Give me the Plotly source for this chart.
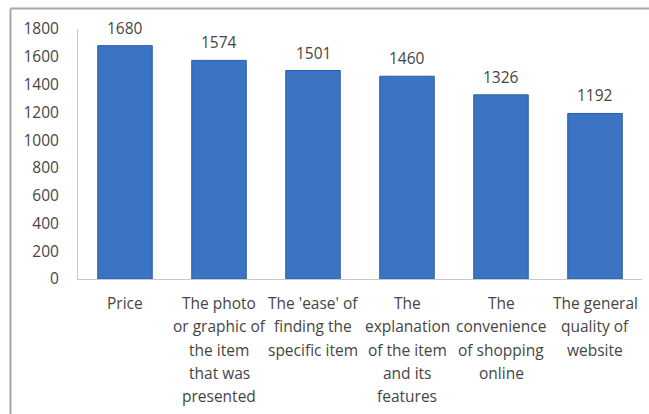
import plotly.graph_objects as go

categories = [
    ["Price"],
    ["The photo", "or graphic of", "the item", "that was", "presented"],
    ["The 'ease' of", "finding the", "specific item"],
    ["The", "explanation", "of the item", "and its", "features"],
    ["The", "convenience", "of shopping", "online"],
    ["The general", "quality of", "website"],
]
values = [1680, 1574, 1501, 1460, 1326, 1192]
y_ticks = [0, 200, 400, 600, 800, 1000, 1200, 1400, 1600, 1800]

cat_keys = [" ".join(c) for c in categories]

W, H = 649, 414
L, R, T, B = 78, 7, 29, 135
FONT = "Open Sans"
TXT = "#454545"
FS = 15.5

fig = go.Figure()
fig.add_trace(go.Bar(
    x=cat_keys, y=values,
    marker=dict(color="#3A74C2", line=dict(color="#2C5DA6", width=1)),
    width=0.58,
    hoverinfo="skip",
))

annotations = []
for key, lines in zip(cat_keys, categories):
    for i, line in enumerate(lines):
        annotations.append(dict(
            x=key, y=0, xref="x", yref="y", text=line, showarrow=False,
            yanchor="middle", yshift=-(24 + 23.3 * i),
            font=dict(family=FONT, size=FS, color=TXT),
        ))
for key, v in zip(cat_keys, values):
    annotations.append(dict(
        x=key, y=v, xref="x", yref="y", text=str(v), showarrow=False,
        yanchor="middle", yshift=18,
        font=dict(family=FONT, size=FS, color=TXT),
    ))

pw = W - L - R
ph = H - T - B
shapes = [
    dict(type="line", xref="paper", yref="paper",
         x0=(10.5 - L) / pw, x1=(W + 5 - L) / pw,
         y0=(H - B - 8.5) / ph, y1=(H - B - 8.5) / ph,
         line=dict(color="#a6a6a6", width=2)),
    dict(type="line", xref="paper", yref="paper",
         x0=(10.5 - L) / pw, x1=(10.5 - L) / pw,
         y0=(H - B - 8.5) / ph, y1=-(B + 5) / ph,
         line=dict(color="#a6a6a6", width=2)),
]

fig.update_layout(
    width=W, height=H,
    margin=dict(l=L, r=R, t=T, b=B),
    paper_bgcolor="white", plot_bgcolor="white",
    showlegend=False,
    annotations=annotations,
    shapes=shapes,
    bargap=0.42,
    xaxis=dict(
        showticklabels=False, showgrid=False, zeroline=False,
        showline=True, linecolor="#c8c8c8", linewidth=1, ticks="",
        fixedrange=True,
    ),
    yaxis=dict(
        range=[0, 1800], tickvals=y_ticks,
        showgrid=False, zeroline=False,
        showline=True, linecolor="#c8c8c8", linewidth=1,
        ticks="", ticklabelstandoff=15,
        tickfont=dict(family=FONT, size=FS, color=TXT),
        fixedrange=True,
    ),
)

fig.write_html("out.html")
